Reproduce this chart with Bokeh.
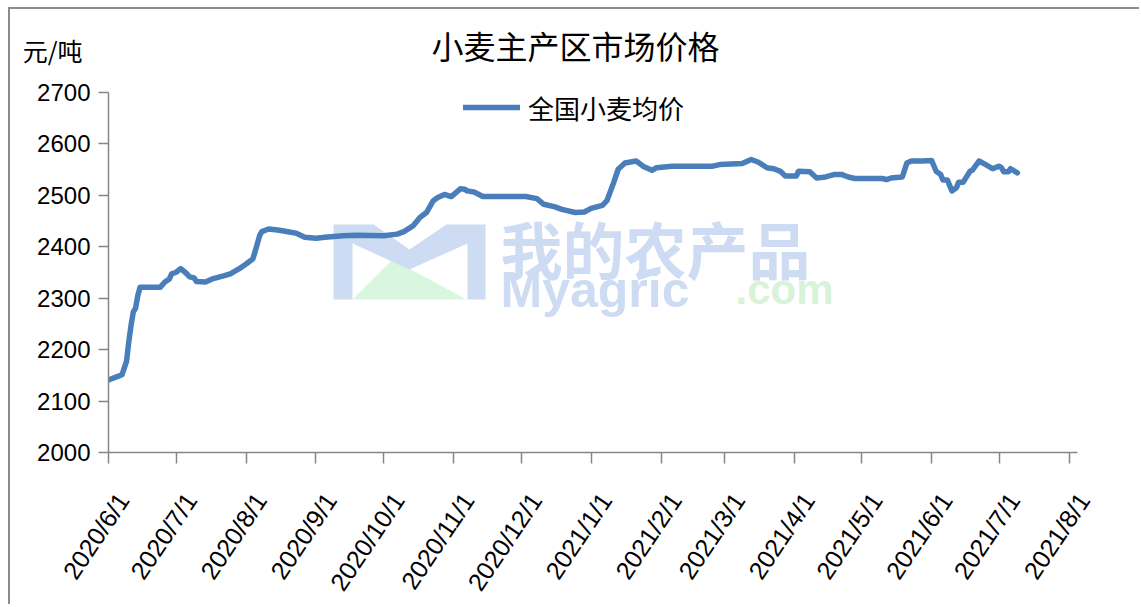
from bokeh.plotting import figure
from bokeh.models import (Range1d, FixedTicker, Label, Legend, LegendItem, PolyAnnotation,
                          CustomJSTickFormatter, ColumnDataSource, LinearAxis)
from bokeh.embed import file_html
from bokeh.resources import INLINE
import pandas as pd
import math

# ---------------- data ----------------
dates = [
    "2020-06-01", "2020-06-04", "2020-06-07", "2020-06-09", "2020-06-10", "2020-06-11",
    "2020-06-12", "2020-06-13", "2020-06-14", "2020-06-15", "2020-06-24", "2020-06-26",
    "2020-06-28", "2020-06-29", "2020-07-01", "2020-07-03", "2020-07-05", "2020-07-07",
    "2020-07-09", "2020-07-10", "2020-07-14", "2020-07-17", "2020-07-22", "2020-07-25",
    "2020-07-29", "2020-08-01", "2020-08-04", "2020-08-05", "2020-08-07", "2020-08-08",
    "2020-08-11", "2020-08-15", "2020-08-19", "2020-08-23", "2020-08-27", "2020-09-01",
    "2020-09-05", "2020-09-13", "2020-09-19", "2020-10-01", "2020-10-07", "2020-10-10",
    "2020-10-14", "2020-10-17", "2020-10-20", "2020-10-23", "2020-10-25", "2020-10-28",
    "2020-10-31", "2020-11-04", "2020-11-06", "2020-11-07", "2020-11-10", "2020-11-14",
    "2020-12-03", "2020-12-08", "2020-12-11", "2020-12-16", "2020-12-19", "2020-12-25",
    "2020-12-29", "2021-01-01", "2021-01-06", "2021-01-08", "2021-01-11", "2021-01-13",
    "2021-01-16", "2021-01-21", "2021-01-24", "2021-01-28", "2021-01-30", "2021-02-06",
    "2021-02-24", "2021-02-27", "2021-03-09", "2021-03-13", "2021-03-16", "2021-03-20",
    "2021-03-23", "2021-03-26", "2021-03-28", "2021-04-02", "2021-04-03", "2021-04-08",
    "2021-04-11", "2021-04-15", "2021-04-19", "2021-04-22", "2021-04-25", "2021-04-28",
    "2021-05-10", "2021-05-12", "2021-05-14", "2021-05-19", "2021-05-21", "2021-05-23",
    "2021-05-28", "2021-06-01", "2021-06-03", "2021-06-05", "2021-06-06", "2021-06-08",
    "2021-06-10", "2021-06-12", "2021-06-13", "2021-06-15", "2021-06-18", "2021-06-19",
    "2021-06-22", "2021-06-25", "2021-06-28", "2021-07-01", "2021-07-02", "2021-07-03",
    "2021-07-05", "2021-07-06", "2021-07-09",
]
prices = [
    2141, 2146, 2151, 2177, 2215, 2247,
    2273, 2280, 2305, 2321, 2321, 2331,
    2337, 2347, 2350, 2357, 2350, 2341,
    2339, 2332, 2331, 2337, 2343, 2347,
    2357, 2366, 2376, 2390, 2421, 2429,
    2434, 2432, 2429, 2426, 2418, 2416,
    2418, 2421, 2422, 2421, 2424, 2429,
    2440, 2456, 2466, 2489, 2495, 2501,
    2497, 2512, 2511, 2508, 2506, 2497,
    2497, 2493, 2482, 2477, 2472, 2466,
    2467, 2474, 2480, 2489, 2524, 2550,
    2562, 2566, 2556, 2548, 2553, 2556,
    2556, 2559, 2561, 2569, 2564, 2553,
    2551, 2546, 2537, 2537, 2546, 2545,
    2533, 2535, 2540, 2540, 2535, 2532,
    2532, 2530, 2533, 2535, 2562, 2566,
    2566, 2567, 2546, 2540, 2529, 2529,
    2508, 2514, 2525, 2525, 2546, 2548,
    2566, 2559, 2551, 2556, 2553, 2545,
    2545, 2551, 2543,
]
series_name = "全国小麦均价"
title_text = "小麦主产区市场价格"
unit_text = "元/吨"
x_tick_dates = ["2020-06-01", "2020-07-01", "2020-08-01", "2020-09-01", "2020-10-01",
                "2020-11-01", "2020-12-01", "2021-01-01", "2021-02-01", "2021-03-01",
                "2021-04-01", "2021-05-01", "2021-06-01", "2021-07-01", "2021-08-01"]
y_ticks = [2000, 2100, 2200, 2300, 2400, 2500, 2600, 2700]
y_min, y_max = 2000, 2700

# ---------------- layout constants ----------------
W, H = 1131, 597
BL, BR, BT, BB = 98, 52, 11, 151          # borders around the plot frame
frame_h = H - BT - BB                      # 435 px
px_per_unit = 363 / (y_max - y_min)        # 2000..2700 spans 363 px in the reference
y_top = y_min + frame_h / px_per_unit      # extra room above 2700 for title & legend
unit_pos = y_min + 405 / px_per_unit       # height at which the unit label sits

x0 = pd.Timestamp("2020-06-01")
x_axis_end = pd.Timestamp("2021-08-04 12:00")
x1 = pd.Timestamp("2021-08-10")

p = figure(width=W, height=H, x_axis_type="datetime",
           x_range=Range1d(x0, x1), y_range=Range1d(y_min, y_top),
           output_backend="svg", toolbar_location=None,
           min_border_left=BL, min_border_right=BR,
           min_border_top=BT, min_border_bottom=BB)
p.styles = {"margin-left": "8px", "margin-top": "7px",
            "border-top": "2px solid #8c8c8c", "border-left": "2px solid #8c8c8c"}
p.background_fill_color = "white"
p.border_fill_color = "white"
p.outline_line_color = None
p.grid.visible = False

# ---------------- watermark (faint, behind everything) ----------------
def fx(x):  # page px -> frame screen x
    return x - 108


def fy(y):  # page px -> frame screen y (from frame bottom)
    return 455 - y


logo_green = [(352, 302), (392, 262), (466, 302)]
logo_blue = [(333, 227), (373, 227), (409, 252), (446, 227), (485, 227), (485, 302),
             (467, 302), (467, 246), (409, 272), (352, 246), (352, 302), (333, 302)]
p.add_layout(PolyAnnotation(xs=[fx(a) for a, b in logo_green], ys=[fy(b) for a, b in logo_green],
                            xs_units="screen", ys_units="screen", fill_color="#d9f6df",
                            fill_alpha=1, line_color=None, level="underlay"))
p.add_layout(PolyAnnotation(xs=[fx(a) for a, b in logo_blue], ys=[fy(b) for a, b in logo_blue],
                            xs_units="screen", ys_units="screen", fill_color="#cddcf3",
                            fill_alpha=1, line_color=None, level="underlay"))
p.add_layout(Label(x=392, y=205, x_units="screen", y_units="screen", text="我的农产品",
                   text_font="Noto Sans CJK SC", text_font_size="62px", text_font_style="bold",
                   text_align="left", text_baseline="middle", text_color="#cddcf3", level="underlay"))
p.add_layout(Label(x=392, y=163, x_units="screen", y_units="screen", text="Myagric",
                   text_font="Liberation Sans", text_font_size="50px", text_font_style="bold",
                   text_align="left", text_baseline="middle", text_color="#cddcf3", level="underlay"))
p.add_layout(Label(x=627, y=163, x_units="screen", y_units="screen", text=".com",
                   text_font="Liberation Sans", text_font_size="42px", text_font_style="bold",
                   text_align="left", text_baseline="middle", text_color="#d8f3d8", level="underlay"))

# ---------------- series ----------------
src = ColumnDataSource(dict(x=pd.to_datetime(dates), y=prices))
r = p.line("x", "y", source=src, line_color="#4a7ebb", line_width=5.5,
           line_join="round", line_cap="round")

axis_color = "#868686"
for ax in (p.xaxis[0], p.yaxis[0]):
    ax.axis_line_color = axis_color
    ax.axis_line_width = 1.5
    ax.major_tick_line_color = axis_color
    ax.major_tick_line_width = 1.5
    ax.major_tick_in = 0
    ax.major_tick_out = 10
    ax.minor_tick_line_color = None
    ax.major_label_text_color = "black"
    ax.major_label_text_font = "Liberation Sans"

p.yaxis.ticker = FixedTicker(ticks=y_ticks)
p.yaxis.bounds = (y_min, y_max)
p.yaxis.major_label_text_font_size = "24px"
p.yaxis.major_label_standoff = 8

# unit label, drawn as the only label of a bare second left axis
unit_axis = LinearAxis(ticker=FixedTicker(ticks=[unit_pos]),
                       formatter=CustomJSTickFormatter(args=dict(u=unit_text), code="return u;"))
unit_axis.axis_line_color = None
unit_axis.major_tick_line_color = None
unit_axis.minor_tick_line_color = None
unit_axis.major_tick_in = 0
unit_axis.major_tick_out = 0
unit_axis.major_label_standoff = -48
unit_axis.major_label_text_font = "Noto Sans CJK SC"
unit_axis.major_label_text_font_size = "25px"
unit_axis.major_label_text_color = "black"
p.add_layout(unit_axis, "left")

tick_ms = [pd.Timestamp(d).value / 1e6 for d in x_tick_dates]
p.xaxis.ticker = FixedTicker(ticks=tick_ms)
p.xaxis.bounds = (x0, x_axis_end)
p.xaxis.major_tick_out = 11
p.xaxis.major_label_text_font_size = "0px"
p.xaxis.major_label_text_color = None
p.xaxis.major_label_standoff = 0

# labels axis (labels sit slightly right of their tick, as in the reference)
shift = 6.5 * 86400000
lab_axis = LinearAxis(ticker=FixedTicker(ticks=[t + shift for t in tick_ms]),
                      formatter=CustomJSTickFormatter(args=dict(off=shift), code="""
const d = new Date(tick - off);
return d.getUTCFullYear() + "/" + (d.getUTCMonth() + 1) + "/" + d.getUTCDate();
"""))
lab_axis.axis_line_color = None
lab_axis.major_tick_line_color = None
lab_axis.minor_tick_line_color = None
lab_axis.major_tick_in = 0
lab_axis.major_tick_out = 0
lab_axis.major_label_orientation = math.radians(56)
lab_axis.major_label_text_font = "Liberation Sans"
lab_axis.major_label_text_font_size = "25px"
lab_axis.major_label_text_color = "black"
lab_axis.major_label_standoff = 32
p.add_layout(lab_axis, "below")

# title (inside the enlarged frame, above the 2700 line)
p.add_layout(Label(x=467, y=408, x_units="screen", y_units="screen", text=title_text,
                   text_font="Noto Sans CJK SC", text_font_size="32px",
                   text_align="center", text_baseline="middle", text_color="black"))

legend = Legend(items=[LegendItem(label=series_name, renderers=[r])],
                location=(355, 325), orientation="horizontal",
                padding=0, margin=0, spacing=0, border_line_color=None,
                background_fill_alpha=0, glyph_width=57, glyph_height=40,
                label_height=40, label_standoff=8,
                label_text_font="Noto Sans CJK SC", label_text_font_size="26px",
                label_text_color="black")
p.add_layout(legend)

open("out.html", "w").write(file_html(p, INLINE))
